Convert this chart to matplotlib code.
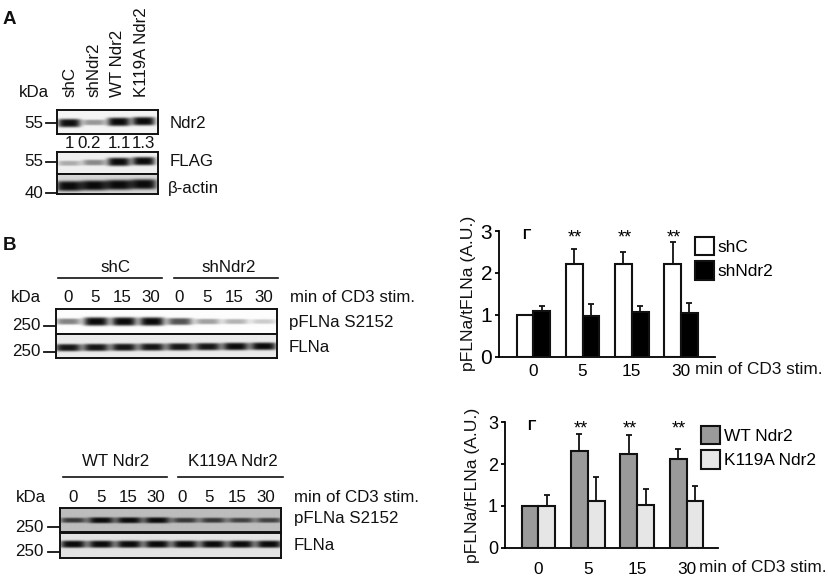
import numpy as np
import matplotlib
matplotlib.use("Agg")
import matplotlib.pyplot as plt

plt.rcParams['font.family'] = ['Liberation Sans', 'DejaVu Sans']

W, H = 829, 576

# Bar values
times = ["0", "5", "15", "30"]
shc = [1.0, 2.22, 2.22, 2.22]
shc_err = [0, 0.35, 0.28, 0.52]
shndr2 = [1.08, 0.96, 1.06, 1.04]
shndr2_err = [0.14, 0.30, 0.16, 0.25]
wt = [1.0, 2.32, 2.25, 2.13]
wt_err = [0, 0.39, 0.44, 0.22]
k119a = [1.0, 1.12, 1.03, 1.12]
k119a_err = [0.25, 0.56, 0.38, 0.36]

# Band darkness of the blots (0 = no band, 1 = black)
ndr2_bands = [0.98, 0.4, 1.0, 1.0]
flag_bands = [0.3, 0.45, 1.0, 1.0]
actin_bands = [1.0, 1.0, 1.0, 1.0]
pflna_shc_bands = [0.5, 1.0, 1.0, 1.0, 0.7, 0.38, 0.3, 0.2]
flna_shc_bands = [0.95, 0.95, 0.95, 0.95, 0.95, 0.95, 1.0, 1.0]
pflna_wt_bands = [0.75, 1.0, 1.0, 1.0, 0.75, 0.75, 0.7, 0.7]
flna_wt_bands = [1.0, 1.0, 1.0, 1.0, 1.0, 1.0, 1.0, 1.0]

fig = plt.figure(figsize=(W / 100, H / 100), dpi=100)

# Overlay in pixel coordinates for the text and lines of the figure
page = fig.add_axes([0, 0, 1, 1])
page.set_xlim(0, W)
page.set_ylim(H, 0)
page.axis("off")


def label(x, y, s, size=12.2, ha="left", **kw):
    page.text(x, y, s, fontsize=size, ha=ha, va="center", color="#111111", **kw)


def blot(left, top, right, bottom, bands, first, pitch, y_band, width, sigma, bg, slope=0.0):
    # grey picture of one blot strip, one lane per band
    ax = fig.add_axes([left / W, 1 - bottom / H, (right - left) / W, (bottom - top) / H])
    xx, yy = np.meshgrid(np.arange(left, right, 0.5), np.arange(top, bottom, 0.5))
    dark = np.zeros(xx.shape)
    for i, b in enumerate(bands):
        cx = first + i * pitch
        cy = y_band - slope * i
        s = sigma * (0.45 + 0.55 * b)  # weak bands look thinner
        dark += b * np.exp(-((xx - cx) / (width / 2)) ** 4) * np.exp(-((yy - cy) / s) ** 4)
    img = bg * (1 - np.clip(dark, 0, 1)) + 0.04
    ax.imshow(img, cmap="gray", vmin=0, vmax=1, aspect="auto", interpolation="bilinear")
    ax.set_xticks([])
    ax.set_yticks([])
    for s in ax.spines.values():
        s.set_linewidth(1.4)
        s.set_color("#111111")


def bars(box, xlim, a, a_err, b, b_err, col_a, col_b, names, tick_size, y_size, legend_at, pad):
    left, top, right, bottom = box
    ax = fig.add_axes([left / W, 1 - bottom / H, (right - left) / W, (bottom - top) / H])
    ax.patch.set_alpha(0)
    x = np.arange(len(times))
    w = 0.34
    ax.bar(x - w / 2, a, w, color=col_a, edgecolor="#111111", linewidth=1.5, label=names[0], zorder=3)
    ax.bar(x + w / 2, b, w, color=col_b, edgecolor="#111111", linewidth=1.5, label=names[1], zorder=3)
    ax.errorbar(x - w / 2, a, yerr=[np.zeros(4), a_err], fmt="none", ecolor="#111111",
                elinewidth=1.3, capsize=2.2, capthick=1.3, zorder=2)
    ax.errorbar(x + w / 2, b, yerr=[np.zeros(4), b_err], fmt="none", ecolor="#111111",
                elinewidth=1.3, capsize=2.2, capthick=1.3, zorder=2)
    ax.set_xlim(*xlim)
    ax.set_ylim(0, 3)
    ax.set_yticks([0, 1, 2, 3])
    ax.set_xticks(x)
    ax.set_xticklabels(times, fontsize=tick_size)
    ax.tick_params(axis="x", length=0, pad=pad)
    ax.tick_params(axis="y", length=3, width=1.3, pad=2, labelsize=y_size)
    for s in ["top", "right"]:
        ax.spines[s].set_visible(False)
    for s in ["left", "bottom"]:
        ax.spines[s].set_linewidth(1.3)
    ax.text(-w / 2 + 0.02, 2.9, "Γ", fontsize=10, fontweight="bold", ha="center", va="center")
    for i in x[1:]:
        ax.text(i - w / 2 + 0.02, 2.83, "**", fontsize=13, ha="center", va="center")
    ax.legend(loc="upper left", bbox_to_anchor=(legend_at[0] / W, 1 - legend_at[1] / H),
              bbox_transform=fig.transFigure, frameon=False, fontsize=tick_size,
              handlelength=1.05, handleheight=1.3, handletextpad=0.25, labelspacing=0.32,
              borderpad=0, borderaxespad=0)


# Panel A
label(3, 19, "A", size=13.5, fontweight="bold")
label(34, 92.5, "kDa", ha="center")
for x, s in zip([70, 94, 118, 142], ["shC", "shNdr2", "WT Ndr2", "K119A Ndr2"]):
    page.text(x, 97, s, fontsize=12.2, rotation=90, ha="center", va="bottom", color="#111111")
blot(57, 110, 158, 133.5, ndr2_bands, 69, 24.8, 123.5, 23, 4.2, 0.92, slope=0.6)
blot(57, 151.5, 158, 173.5, flag_bands, 69, 24.8, 163.5, 23, 4.2, 0.9, slope=0.7)
blot(57, 173.5, 158, 194, actin_bands, 69, 24.8, 186, 26, 5.0, 0.8, slope=0.6)
for x, s in zip([69, 89, 119, 143], ["1", "0.2", "1.1", "1.3"]):
    label(x, 143, s, ha="center")
for y, s in zip([123, 162, 193], ["55", "55", "40"]):
    label(43, y, s, ha="right")
    page.plot([46.5, 57], [y, y], color="#111111", lw=1.3)
label(170, 123, "Ndr2")
label(170, 162, "FLAG")
label(168, 189, "β-actin")

# Panel B, upper blot
label(3, 245, "B", size=13.5, fontweight="bold")
page.plot([58, 162], [278.3, 278.3], color="#111111", lw=1.2)
page.plot([174, 278], [278.3, 278.3], color="#111111", lw=1.2)
label(115, 268, "shC", ha="center")
label(229, 268, "shNdr2", ha="center")
label(26, 298, "kDa", ha="center")
for x, s in zip([68, 95, 122, 151, 179, 207, 234, 264], times + times):
    label(x, 298, s, ha="center")
label(290, 298, "min of CD3 stim.")
blot(56, 309, 277, 334.3, pflna_shc_bands, 68, 27.9, 322, 25, 4.2, 0.95)
blot(56, 334.3, 277, 358, flna_shc_bands, 68, 27.9, 347.7, 26, 3.8, 0.88, slope=0.2)
for y in [325.7, 352]:
    label(41, y, "250", ha="right")
    page.plot([44, 56], [y, y], color="#111111", lw=1.3)
label(289, 322, "pFLNa S2152")
label(289, 347.7, "FLNa")

# Panel B, lower blot
page.plot([63, 167], [477.3, 477.3], color="#111111", lw=1.2)
page.plot([178, 283], [477.3, 477.3], color="#111111", lw=1.2)
label(116, 462, "WT Ndr2", ha="center")
label(233, 462, "K119A Ndr2", ha="center")
label(31, 497, "kDa", ha="center")
for x, s in zip([73, 101, 128, 156, 182, 209, 237, 266], times + times):
    label(x, 497, s, ha="center")
label(294, 497, "min of CD3 stim.")
blot(60, 508, 281.5, 531.7, pflna_wt_bands, 73, 27.9, 520, 26, 3.0, 0.7)
blot(60, 533.3, 281.5, 557.5, flna_wt_bands, 73, 27.9, 545, 26, 3.6, 0.85)
for y in [527, 551.5]:
    label(44, y, "250", ha="right")
    page.plot([48, 60], [y, y], color="#111111", lw=1.3)
label(294, 519, "pFLNa S2152")
label(294, 545, "FLNa")

# Bar charts
bars((499.3, 231, 715, 356.7), (-0.69, 3.69), shc, shc_err, shndr2, shndr2_err,
     "white", "black", ["shC", "shNdr2"], 12.4, 15, (695.5, 236.5), 5)
label(695, 369, "min of CD3 stim.", size=12.4)
page.text(469, 293, "pFLNa/tFLNa (A.U.)", fontsize=12.6, rotation=90, ha="center", va="center", color="#111111")

bars((505, 422.3, 718.3, 547.7), (-0.674, 3.64), wt, wt_err, k119a, k119a_err,
     "#9a9a9a", "#e6e6e6", ["WT Ndr2", "K119A Ndr2"], 12.4, 13, (701.5, 425.5), 10)
label(699, 567, "min of CD3 stim.", size=12.4)
page.text(473, 485, "pFLNa/tFLNa (A.U.)", fontsize=12.6, rotation=90, ha="center", va="center", color="#111111")

fig.savefig("out.png", dpi=100)
